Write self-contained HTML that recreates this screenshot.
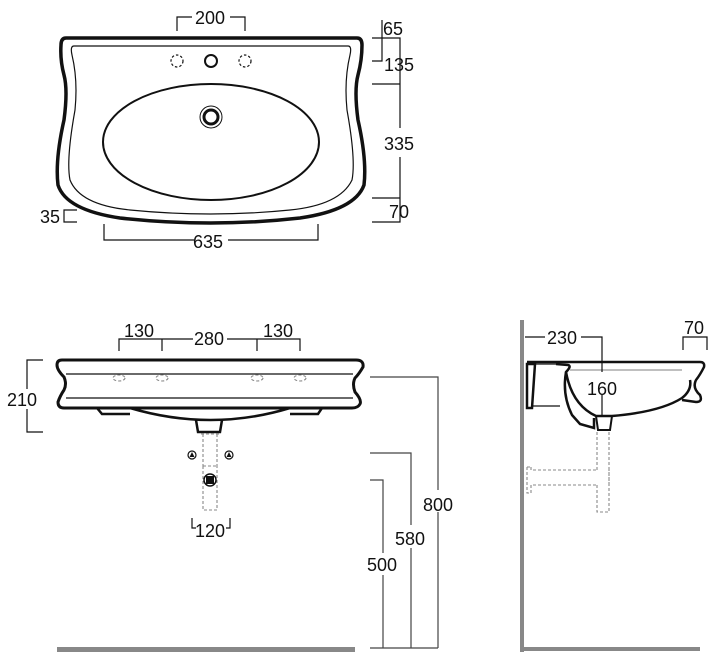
<!DOCTYPE html>
<html><head><meta charset="utf-8"><style>
html,body{margin:0;padding:0;background:#fff;}
svg{display:block;}
text{font-family:"Liberation Sans",Arial,sans-serif;font-size:18px;fill:#111;}
</style></head><body>
<svg width="721" height="664" viewBox="0 0 721 664" xmlns="http://www.w3.org/2000/svg">
<g fill="none" stroke="#111">
<!-- TOP VIEW -->
<path d="M66 38 L357 38 Q362 38 362 45 Q362 60 358 75 Q354 90 358 120 Q367 160 364 185 Q355 210 300 218 Q211 228 120 218 Q66 210 58 185 Q55 160 64 120 Q68 90 64 75 Q60 60 61 45 Q61 38 66 38 Z" stroke-width="3.5"/>
<path d="M74 46 L348 46 Q352 46 350 55 Q344 80 347 110 Q356 160 352 180 Q340 205 290 210 Q211 218 130 210 Q80 205 70 180 Q66 160 75 110 Q78 80 72 55 Q70 46 74 46 Z" stroke-width="1.2"/>
<ellipse cx="211" cy="142" rx="108" ry="58" stroke-width="2"/>
<circle cx="211" cy="117" r="11" stroke-width="1"/>
<circle cx="211" cy="117" r="7" stroke-width="3"/>
<circle cx="211" cy="61" r="6" stroke-width="2"/>
<circle cx="177" cy="61" r="6" stroke-width="1.2" stroke-dasharray="2.5 2"/>
<circle cx="245" cy="61" r="6" stroke-width="1.2" stroke-dasharray="2.5 2"/>
<g stroke-width="1.2">
<path d="M177 31 V17 H192 M230 17 H245 V31"/>
<path d="M104 224 V240 H194 M228 240 H318 V224"/>
<path d="M77 210 H64 V222 H77"/>
<path d="M372 38 H400 V128 M400 157 V198 M372 84 H400 M372 198 H400 V222 H372"/>
<path d="M382 20 V61 H372"/>
</g>
</g>
<text x="195" y="24">200</text>
<text x="193" y="248">635</text>
<text x="40" y="223">35</text>
<text x="383" y="35">65</text>
<text x="384" y="71">135</text>
<text x="384" y="150">335</text>
<text x="389" y="218">70</text>

<!-- FRONT VIEW -->
<g fill="none" stroke="#111">
<path d="M62 360 L356 360 Q364 360 363 367 Q359 374 355 378 Q352 384 355 392 Q362 400 360 404 Q358 408 352 408 L64 408 Q58 408 58 402 Q60 396 64 390 Q67 384 64 377 Q57 370 57 365 Q57 360 62 360 Z" stroke-width="3"/>
<path d="M66 374 H353 M66 398 H353" stroke-width="1.2"/>
<path d="M97 408 L102 414 L130 414 M130 408 Q211 432 290 408 M290 414 L318 414 L322 408" stroke-width="2.5"/>
<path d="M196 420 L198 432 L220 432 L222 420" stroke-width="2.5"/>
<g stroke-width="1.1" stroke-dasharray="3 2" stroke="#888">
<ellipse cx="119" cy="378" rx="6" ry="3"/><ellipse cx="162" cy="378" rx="6" ry="3"/>
<ellipse cx="257" cy="378" rx="6" ry="3"/><ellipse cx="300" cy="378" rx="6" ry="3"/>
<path d="M201 434 H219 M203 434 V466 M217 434 V466 M203 466 H217 M203 466 V510 H217 V466"/>
</g>
<circle cx="210" cy="480" r="6" stroke-width="1.5"/>
<circle cx="192" cy="455" r="4" stroke-width="1.2"/>
<circle cx="229" cy="455" r="4" stroke-width="1.2"/>
<g stroke-width="1.2">
<path d="M119 351 V339 H193 M227 339 H300 V351 M162 339 V351 M257 339 V351"/>
<path d="M43 360 H27 V389 M27 409 V432 H43"/>
<path d="M192 518 V528 H196 M226 528 H230 V518"/>
</g>
<g stroke="#444" stroke-width="1.2">
<path d="M370 377 H438 V490 M438 512 V648"/>
<path d="M370 453 H411 V525 M411 548 V648"/>
<path d="M370 480 H383 V553 M383 575 V648"/>
<path d="M370 648 H438"/>
</g>
</g>
<rect x="206" y="476" width="8" height="8" fill="#111"/>
<path d="M192 452 L194.5 457 L189.5 457 Z M229 452 L231.5 457 L226.5 457 Z" fill="#111"/>
<rect x="57" y="647" width="298" height="5" fill="#888"/>
<text x="124" y="337">130</text>
<text x="194" y="345">280</text>
<text x="263" y="337">130</text>
<text x="7" y="406">210</text>
<text x="195" y="537">120</text>
<text x="423" y="511">800</text>
<text x="395" y="545">580</text>
<text x="367" y="571">500</text>

<!-- SIDE VIEW -->
<rect x="520" y="320" width="4" height="332" fill="#888"/>
<rect x="520" y="647" width="180" height="4" fill="#888"/>
<g fill="none" stroke="#111">
<path d="M527 362 H700 Q705 362 704 367 Q700 375 696 380 Q692 388 700 395 Q703 402 696 402 L682 400" stroke-width="2.5"/>
<path d="M527 364 L535 364 L532 408 L527 408 Z" stroke-width="2.5"/>
<path d="M535 364 H558 M533 406 H560" stroke-width="1.2"/>
<path d="M556 364 L568 365 Q572 366 566 372 Q562 395 572 415 L580 424 L594 428 L594 418" stroke-width="2.5"/>
<path d="M566 372 Q572 405 596 416 L612 416 Q660 412 682 398 Q692 390 690 380" stroke-width="2.5"/>
<path d="M596 416 L598 430 H610 L612 416" stroke-width="2"/>
<path d="M570 370 H682" stroke="#aaa" stroke-width="1.5"/>
<g stroke-width="1.2">
<path d="M525 337 H545 M581 337 H602 V372 M602 394 V416"/>
<path d="M683 350 V337 H707 V350"/>
</g>
<g stroke="#888" stroke-width="1.1" stroke-dasharray="3 2">
<path d="M597 432 V470 M609 432 V470 M597 485 V512 H609 V470 M609 485 V470"/>
<path d="M527 467 V493 H531 V485 H597 M531 467 V470 H597 M527 467 H531"/>
</g>
</g>
<text x="547" y="344">230</text>
<text x="587" y="395">160</text>
<text x="684" y="334">70</text>
</svg>
</body></html>
